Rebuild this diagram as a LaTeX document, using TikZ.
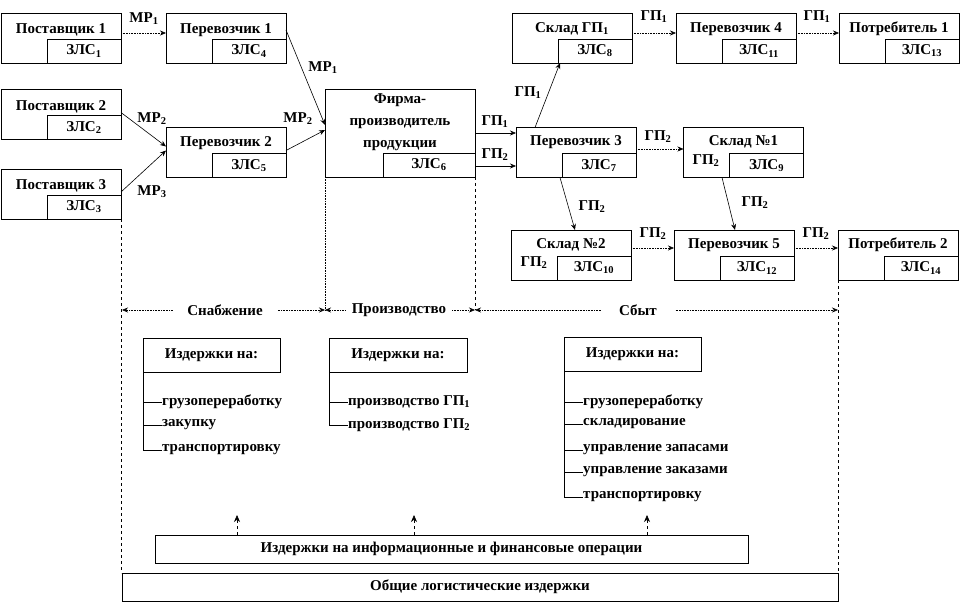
\documentclass[tikz,border=0pt]{standalone}
\usepackage{fontspec}
\setmainfont{Liberation Serif}
\usetikzlibrary{arrows.meta}

\tikzset{
  every node/.style={font=\bfseries\fontsize{15}{17}\selectfont},
  zveno/.style={draw, line width=0.8pt, minimum width=120pt, minimum height=50pt, inner sep=0pt, outer sep=0pt},
  zls/.style={draw, line width=0.8pt, minimum width=74pt, minimum height=24pt, inner sep=0pt, outer sep=0pt, anchor=south east},
  potok/.style={line width=0.6pt, -{Stealth[length=6pt,width=5pt]}},
  potokdot/.style={potok, densely dotted},
  zatraty/.style={draw, line width=0.8pt, minimum width=137pt, minimum height=34pt, inner sep=0pt, outer sep=0pt},
  punkt/.style={anchor=west, inner sep=0pt},
  vetka/.style={line width=0.6pt},
  granica/.style={line width=0.6pt, dashed},
  etap/.style={line width=0.6pt, densely dotted, {Stealth[length=6pt,width=5pt]}-{Stealth[length=6pt,width=5pt]}},
  etapname/.style={fill=white, inner xsep=14pt},
  itog/.style={draw, line width=0.8pt, minimum height=28pt, inner sep=0pt, outer sep=0pt},
  svyaz/.style={line width=0.6pt, dashed, -{Stealth[length=7pt,width=6pt]}}
}

\begin{document}
\begin{tikzpicture}[x=1pt, y=-1pt]
  \useasboundingbox (0,0) rectangle (963,604);

  % Postavshchiki
  \node[zveno] (post1) at (61,38) {};
  \node (post1t) at ([yshift=-17pt]post1.north) {Поставщик 1};
  \node[zls] (zls1) at (post1.south east) {ЗЛС\textsubscript{1}};
  \node[zveno] (post2) at (61,114.5) {};
  \node (post2t) at ([yshift=-17pt]post2.north) {Поставщик 2};
  \node[zls] (zls2) at (post2.south east) {ЗЛС\textsubscript{2}};
  \node[zveno] (post3) at (61,194) {};
  \node (post3t) at ([yshift=-17pt]post3.north) {Поставщик 3};
  \node[zls] (zls3) at (post3.south east) {ЗЛС\textsubscript{3}};

  % Perevozchiki 1, 2
  \node[zveno] (per1) at (226,38) {};
  \node (per1t) at ([yshift=-17pt]per1.north) {Перевозчик 1};
  \node[zls] (zls4) at (per1.south east) {ЗЛС\textsubscript{4}};
  \node[zveno] (per2) at (226,152.5) {};
  \node (per2t) at ([yshift=-16pt]per2.north) {Перевозчик 2};
  \node[zls] (zls5) at (per2.south east) {ЗЛС\textsubscript{5}};

  % Firma
  \node[zveno, minimum width=150pt, minimum height=88pt] (firma) at (400,133) {};
  \node[align=center, font=\bfseries\fontsize{15}{22}\selectfont] (firmat) at (400,122) {Фирма-\\производитель\\продукции};
  \node[zls, minimum width=92pt] (zls6) at (firma.south east) {ЗЛС\textsubscript{6}};

  % Sbyt: verkhnii riad
  \node[zveno] (skladgp) at (572,38) {};
  \node (skladgpt) at ([yshift=-16pt]skladgp.north) {Склад ГП\textsubscript{1}};
  \node[zls] (zls8) at (skladgp.south east) {ЗЛС\textsubscript{8}};
  \node[zveno] (per4) at (736,38) {};
  \node (per4t) at ([yshift=-16pt]per4.north) {Перевозчик 4};
  \node[zls] (zls11) at (per4.south east) {ЗЛС\textsubscript{11}};
  \node[zveno] (potr1) at (899,38) {};
  \node (potr1t) at ([yshift=-16pt]potr1.north) {Потребитель 1};
  \node[zls] (zls13) at (potr1.south east) {ЗЛС\textsubscript{13}};

  % Sbyt: srednii riad
  \node[zveno] (per3) at (576,152.5) {};
  \node (per3t) at ([yshift=-15pt]per3.north) {Перевозчик 3};
  \node[zls] (zls7) at (per3.south east) {ЗЛС\textsubscript{7}};
  \node[zveno] (sklad1) at (743.5,152.5) {};
  \node (sklad1t) at ([yshift=-14pt]sklad1.north) {Склад №1};
  \node[zls] (zls9) at (sklad1.south east) {ЗЛС\textsubscript{9}};
  \node (sklad1gp) at (706,161) {ГП\textsubscript{2}};

  % Sbyt: nizhnii riad
  \node[zveno] (sklad2) at (571,255) {};
  \node (sklad2t) at ([yshift=-15pt]sklad2.north) {Склад №2};
  \node[zls] (zls10) at (sklad2.south east) {ЗЛС\textsubscript{10}};
  \node (sklad2gp) at (534,263) {ГП\textsubscript{2}};
  \node[zveno] (per5) at (734,255) {};
  \node (per5t) at ([yshift=-15pt]per5.north) {Перевозчик 5};
  \node[zls] (zls12) at (per5.south east) {ЗЛС\textsubscript{12}};
  \node[zveno] (potr2) at (898,255) {};
  \node (potr2t) at ([yshift=-15pt]potr2.north) {Потребитель 2};
  \node[zls] (zls14) at (potr2.south east) {ЗЛС\textsubscript{14}};

  % Potoki MR
  \draw[potokdot] ([yshift=5pt]post1.east) -- ([yshift=5pt]per1.west);
  \draw[potok] ([yshift=8pt]per1.east) -- ([yshift=8pt]firma.west);
  \draw[potok] ([yshift=2pt]post2.east) -- ([yshift=6pt]per2.west);
  \draw[potok] ([yshift=2pt]post3.east) -- ([yshift=2pt]per2.west);
  \draw[potok] ([yshift=2pt]per2.east) -- ([yshift=3pt]firma.west);
  \node (mr1a) at (144,19) {МР\textsubscript{1}};
  \node (mr1b) at (323,68) {МР\textsubscript{1}};
  \node (mr2a) at (152,119) {МР\textsubscript{2}};
  \node (mr2b) at (298,119) {МР\textsubscript{2}};
  \node (mr3) at (152,192) {МР\textsubscript{3}};

  % Potoki GP
  \draw[potok] (firma.east) -- ([yshift=19.5pt]per3.west);
  \draw[potok] ([yshift=-33pt]firma.east) -- ([yshift=-13.5pt]per3.west);
  \draw[potok] ([xshift=-41pt]per3.north) -- ([xshift=-12pt]skladgp.south);
  \draw[potokdot] ([yshift=5pt]skladgp.east) -- ([yshift=5pt]per4.west);
  \draw[potokdot] ([yshift=5pt]per4.east) -- ([yshift=5pt]potr1.west);
  \draw[potokdot] ([yshift=3.5pt]per3.east) -- ([yshift=3.5pt]sklad1.west);
  \draw[potok] ([xshift=-16pt]per3.south) -- ([xshift=4pt]sklad2.north);
  \draw[potok] ([xshift=-21.5pt]sklad1.south) -- ([xshift=1pt]per5.north);
  \draw[potokdot] ([yshift=7pt]sklad2.east) -- ([yshift=7pt]per5.west);
  \draw[potokdot] ([yshift=7pt]per5.east) -- ([yshift=7pt]potr2.west);
  \node (gp1a) at (495,122) {ГП\textsubscript{1}};
  \node (gp2a) at (495,155) {ГП\textsubscript{2}};
  \node (gp1b) at (528,93) {ГП\textsubscript{1}};
  \node (gp1c) at (654,17) {ГП\textsubscript{1}};
  \node (gp1d) at (817,17) {ГП\textsubscript{1}};
  \node (gp2b) at (658,137) {ГП\textsubscript{2}};
  \node (gp2c) at (592,207) {ГП\textsubscript{2}};
  \node (gp2d) at (755,203) {ГП\textsubscript{2}};
  \node (gp2e) at (653,234) {ГП\textsubscript{2}};
  \node (gp2f) at (816,234) {ГП\textsubscript{2}};

  % Itogovye bloki
  \node[itog, minimum width=593pt] (info) at (451.5,549) {Издержки на информационные и финансовые операции};
  \node[itog, minimum width=716pt] (obshch) at (480,587) {Общие логистические издержки};

  % Granitsy etapov
  \coordinate (e0) at (122,310);
  \coordinate (e1) at (325,310);
  \coordinate (e2) at (475,310);
  \coordinate (e3) at (838,310);
  \draw[granica] (post3.south east) -- (post3.south east |- obshch.north);
  \draw[granica, densely dotted] (firma.south west) -- (e1);
  \draw[granica] (firma.south east) -- (e2);
  \draw[granica] (potr2.south west) -- (potr2.south west |- obshch.north);
  \draw[etap] (e0) -- (e1);
  \draw[etap] (e1) -- (e2);
  \draw[etap] (e2) -- (e3);
  \node[etapname] (snab) at (225,310) {Снабжение};
  \node[etapname, inner xsep=6pt] (proizv) at (399,310) {Производство};
  \node[etapname, inner xsep=18pt] (sbyt) at (638,310) {Сбыт};

  % Izderzhki: snabzhenie
  \node[zatraty] (zsnab) at (211.5,355) {Издержки на:};
  \node[punkt] (zs1) at (162,402) {грузопереработку};
  \node[punkt] (zs2) at (162,425) {закупку};
  \node[punkt] (zs3) at (162,450) {транспортировку};
  \foreach \p in {zs1,zs2,zs3}
    \draw[vetka] (zsnab.south west) |- (\p.west);

  % Izderzhki: proizvodstvo
  \node[zatraty, minimum width=138pt] (zproizv) at (398,355) {Издержки на:};
  \node[punkt] (zp1) at (348,402) {производство ГП\textsubscript{1}};
  \node[punkt] (zp2) at (348,425) {производство ГП\textsubscript{2}};
  \foreach \p in {zp1,zp2}
    \draw[vetka] (zproizv.south west) |- (\p.west);

  % Izderzhki: sbyt
  \node[zatraty] (zsbyt) at (632.5,354.5) {Издержки на:};
  \node[punkt] (zb1) at (583,402) {грузопереработку};
  \node[punkt] (zb2) at (583,424) {складирование};
  \node[punkt] (zb3) at (583,450) {управление запасами};
  \node[punkt] (zb4) at (583,472) {управление заказами};
  \node[punkt] (zb5) at (583,497) {транспортировку};
  \foreach \p in {zb1,zb2,zb3,zb4,zb5}
    \draw[vetka] (zsbyt.south west) |- (\p.west);

  % Sviazi s informatsionnymi izderzhkami
  \coordinate (u1) at (237,515);
  \coordinate (u2) at (414,515);
  \coordinate (u3) at (647,515);
  \foreach \u in {u1,u2,u3}
    \draw[svyaz] (info.north -| \u) -- (\u);

\end{tikzpicture}
\end{document}
